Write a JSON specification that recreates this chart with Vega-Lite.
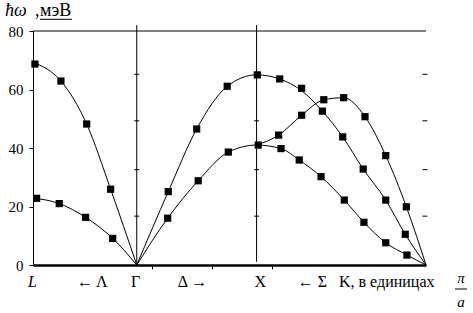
{
  "$schema": "https://vega.github.io/schema/vega-lite/v6.json",
  "width": 393,
  "height": 234,
  "autosize": "none",
  "padding": {"left": 33, "top": 31, "right": 47, "bottom": 48},
  "background": "white",
  "config": {"view": {"stroke": null}, "font": "Liberation Serif", "axis": {"grid": false}},
  "data": {"values": [{}]},
  "datasets": {
    "curves": [
      {"b": "Lu", "k": -0.866, "E": 69.3}, {"b": "Lu", "k": -0.633, "E": 62.9}, {"b": "Lu", "k": -0.418, "E": 48.2}, {"b": "Lu", "k": -0.218, "E": 25.9}, {"b": "Lu", "k": 0, "E": 0},
      {"b": "Ll", "k": -0.866, "E": 22.9}, {"b": "Ll", "k": -0.647, "E": 21.0}, {"b": "Ll", "k": -0.427, "E": 16.3}, {"b": "Ll", "k": -0.201, "E": 9.1}, {"b": "Ll", "k": 0, "E": 0},
      {"b": "long", "k": 0, "E": 0}, {"b": "long", "k": 0.263, "E": 25.1}, {"b": "long", "k": 0.5, "E": 46.5}, {"b": "long", "k": 0.755, "E": 61.1}, {"b": "long", "k": 1.0, "E": 65.0}, {"b": "long", "k": 1.193, "E": 63.6}, {"b": "long", "k": 1.376, "E": 59.6}, {"b": "long", "k": 1.549, "E": 52.6}, {"b": "long", "k": 1.719, "E": 43.8}, {"b": "long", "k": 1.89, "E": 32.8}, {"b": "long", "k": 2.078, "E": 22.2}, {"b": "long", "k": 2.241, "E": 10.5}, {"b": "long", "k": 2.414, "E": 0},
      {"b": "tr", "k": 0, "E": 0}, {"b": "tr", "k": 0.258, "E": 16.0}, {"b": "tr", "k": 0.513, "E": 28.8}, {"b": "tr", "k": 0.764, "E": 38.6}, {"b": "tr", "k": 1.0, "E": 41.0}, {"b": "tr", "k": 1.204, "E": 39.8}, {"b": "tr", "k": 1.356, "E": 35.9}, {"b": "tr", "k": 1.538, "E": 30.2}, {"b": "tr", "k": 1.732, "E": 22.2}, {"b": "tr", "k": 1.896, "E": 14.6}, {"b": "tr", "k": 2.078, "E": 7.6}, {"b": "tr", "k": 2.255, "E": 3.4}, {"b": "tr", "k": 2.414, "E": 0},
      {"b": "mid", "k": 1.0, "E": 41.0}, {"b": "mid", "k": 1.184, "E": 44.4}, {"b": "mid", "k": 1.376, "E": 51.2}, {"b": "mid", "k": 1.561, "E": 56.5}, {"b": "mid", "k": 1.727, "E": 57.2}, {"b": "mid", "k": 1.905, "E": 50.7}, {"b": "mid", "k": 2.078, "E": 37.4}, {"b": "mid", "k": 2.25, "E": 19.9}, {"b": "mid", "k": 2.414, "E": 0}
    ],
    "points": [
      {"k": -0.85, "E": 68.7}, {"k": -0.633, "E": 62.9}, {"k": -0.418, "E": 48.2}, {"k": -0.218, "E": 25.9},
      {"k": -0.836, "E": 22.8}, {"k": -0.647, "E": 21.0}, {"k": -0.427, "E": 16.3}, {"k": -0.201, "E": 9.1},
      {"k": 0.263, "E": 25.1}, {"k": 0.5, "E": 46.5}, {"k": 0.755, "E": 61.1}, {"k": 1.006, "E": 65.0},
      {"k": 0.258, "E": 16.0}, {"k": 0.513, "E": 28.8}, {"k": 0.764, "E": 38.6}, {"k": 1.014, "E": 41.0},
      {"k": 1.193, "E": 63.6}, {"k": 1.376, "E": 60.4}, {"k": 1.549, "E": 52.6}, {"k": 1.719, "E": 43.8}, {"k": 1.89, "E": 32.8}, {"k": 2.078, "E": 22.2}, {"k": 2.241, "E": 10.5},
      {"k": 1.184, "E": 44.4}, {"k": 1.376, "E": 51.2}, {"k": 1.561, "E": 56.5}, {"k": 1.727, "E": 57.2}, {"k": 1.905, "E": 50.7}, {"k": 2.078, "E": 37.4}, {"k": 2.25, "E": 19.9},
      {"k": 1.204, "E": 39.8}, {"k": 1.356, "E": 35.9}, {"k": 1.538, "E": 30.2}, {"k": 1.732, "E": 22.2}, {"k": 1.896, "E": 14.6}, {"k": 2.078, "E": 7.6}, {"k": 2.255, "E": 3.4}
    ],
    "minor": [
      {"k": 0, "E": 16.7}, {"k": 0, "E": 32.6}, {"k": 0, "E": 49.3}, {"k": 0, "E": 65.2},
      {"k": 1, "E": 16.7}, {"k": 1, "E": 32.6}, {"k": 1, "E": 49.3}, {"k": 1, "E": 65.2},
      {"k": 2.405, "E": 16.7}, {"k": 2.405, "E": 32.6}, {"k": 2.405, "E": 49.3}, {"k": 2.405, "E": 65.2}
    ],
    "labels": [
      {"k": -0.371, "t": "← Λ"}, {"k": -0.01, "t": "Γ"}, {"k": 0.465, "t": "Δ →"}, {"k": 1.03, "t": "X"}, {"k": 1.466, "t": "← Σ"}
    ]
  },
  "layer": [
    {
      "data": {"name": "curves"},
      "mark": {"type": "line", "color": "black", "strokeWidth": 1, "interpolate": "monotone"},
      "encoding": {
        "x": {"field": "k", "type": "quantitative", "scale": {"domain": [-0.866, 2.414], "nice": false, "zero": false},
          "axis": {"values": [0.127, 0.628, 1.129], "labels": false, "tickSize": 4, "tickColor": "black", "tickWidth": 1, "domain": true, "domainColor": "black", "domainWidth": 2.5, "title": null}},
        "y": {"field": "E", "type": "quantitative", "scale": {"domain": [0, 80], "nice": false},
          "axis": {"values": [0, 20, 40, 60, 80], "tickSize": 4, "tickColor": "black", "domain": true, "domainColor": "black", "domainWidth": 1, "labelFont": "Liberation Serif", "labelFontSize": 15, "labelColor": "black", "labelPadding": 6, "title": null}},
        "detail": {"field": "b"}
      }
    },
    {
      "data": {"name": "points"},
      "mark": {"type": "point", "shape": "square", "filled": true, "size": 52, "color": "black", "opacity": 1},
      "encoding": {"x": {"field": "k", "type": "quantitative"}, "y": {"field": "E", "type": "quantitative"}}
    },
    {
      "data": {"name": "minor"},
      "mark": {"type": "point", "shape": "M-1,0H1", "filled": false, "size": 25, "stroke": "black", "strokeWidth": 1, "opacity": 1},
      "encoding": {"x": {"field": "k", "type": "quantitative"}, "y": {"field": "E", "type": "quantitative"}}
    },
    {
      "mark": {"type": "rule", "color": "black", "strokeWidth": 1},
      "encoding": {"x": {"datum": -0.866}, "x2": {"datum": 2.414}, "y": {"datum": 80}}
    },
    {
      "mark": {"type": "rule", "color": "black", "strokeWidth": 1},
      "encoding": {"x": {"datum": 0}, "y": {"datum": 0}, "y2": {"datum": 82}}
    },
    {
      "mark": {"type": "rule", "color": "black", "strokeWidth": 1},
      "encoding": {"x": {"datum": 1}, "y": {"datum": 1.1}, "y2": {"datum": 82}}
    },
    {
      "data": {"name": "labels"},
      "mark": {"type": "text", "font": "Liberation Serif", "fontSize": 16, "dy": 22, "baseline": "alphabetic", "align": "center", "color": "black"},
      "encoding": {"x": {"field": "k", "type": "quantitative"}, "y": {"datum": 0}, "text": {"field": "t"}}
    },
    {
      "mark": {"type": "text", "font": "Liberation Serif", "fontSize": 16, "fontStyle": "italic", "dy": 22, "baseline": "alphabetic", "align": "center", "color": "black", "text": "L"},
      "encoding": {"x": {"datum": -0.87}, "y": {"datum": 0}}
    },
    {
      "mark": {"type": "text", "font": "Liberation Serif", "fontSize": 16, "dy": 22, "baseline": "alphabetic", "align": "left", "color": "black", "text": "K, в единицах"},
      "encoding": {"x": {"datum": 1.688}, "y": {"datum": 0}}
    },
    {
      "mark": {"type": "text", "font": "Liberation Serif", "fontSize": 15, "fontStyle": "italic", "dy": 18, "baseline": "alphabetic", "align": "center", "color": "black", "text": "π"},
      "encoding": {"x": {"datum": 2.706}, "y": {"datum": 0}}
    },
    {
      "mark": {"type": "text", "font": "Liberation Serif", "fontSize": 15, "fontStyle": "italic", "dy": 42, "baseline": "alphabetic", "align": "center", "color": "black", "text": "a"},
      "encoding": {"x": {"datum": 2.706}, "y": {"datum": 0}}
    },
    {
      "mark": {"type": "rule", "color": "black", "strokeWidth": 1},
      "encoding": {"x": {"datum": 2.656}, "x2": {"datum": 2.756}, "y": {"datum": -8.2}}
    },
    {
      "mark": {"type": "text", "font": "Liberation Serif", "fontSize": 18, "fontStyle": "italic", "dy": -15, "baseline": "alphabetic", "align": "left", "color": "black", "text": "ħω"},
      "encoding": {"x": {"datum": -1.1}, "y": {"datum": 80}}
    },
    {
      "mark": {"type": "text", "font": "Liberation Serif", "fontSize": 18, "dy": -15, "baseline": "alphabetic", "align": "left", "color": "black", "text": ","},
      "encoding": {"x": {"datum": -0.85}, "y": {"datum": 80}}
    },
    {
      "mark": {"type": "text", "font": "Liberation Serif", "fontSize": 18, "dy": -15, "baseline": "alphabetic", "align": "left", "color": "black", "text": "мэВ"},
      "encoding": {"x": {"datum": -0.808}, "y": {"datum": 80}}
    },
    {
      "mark": {"type": "rule", "color": "black", "strokeWidth": 1},
      "encoding": {"x": {"datum": -0.808}, "x2": {"datum": -0.541}, "y": {"datum": 84.0}}
    }
  ]
}
